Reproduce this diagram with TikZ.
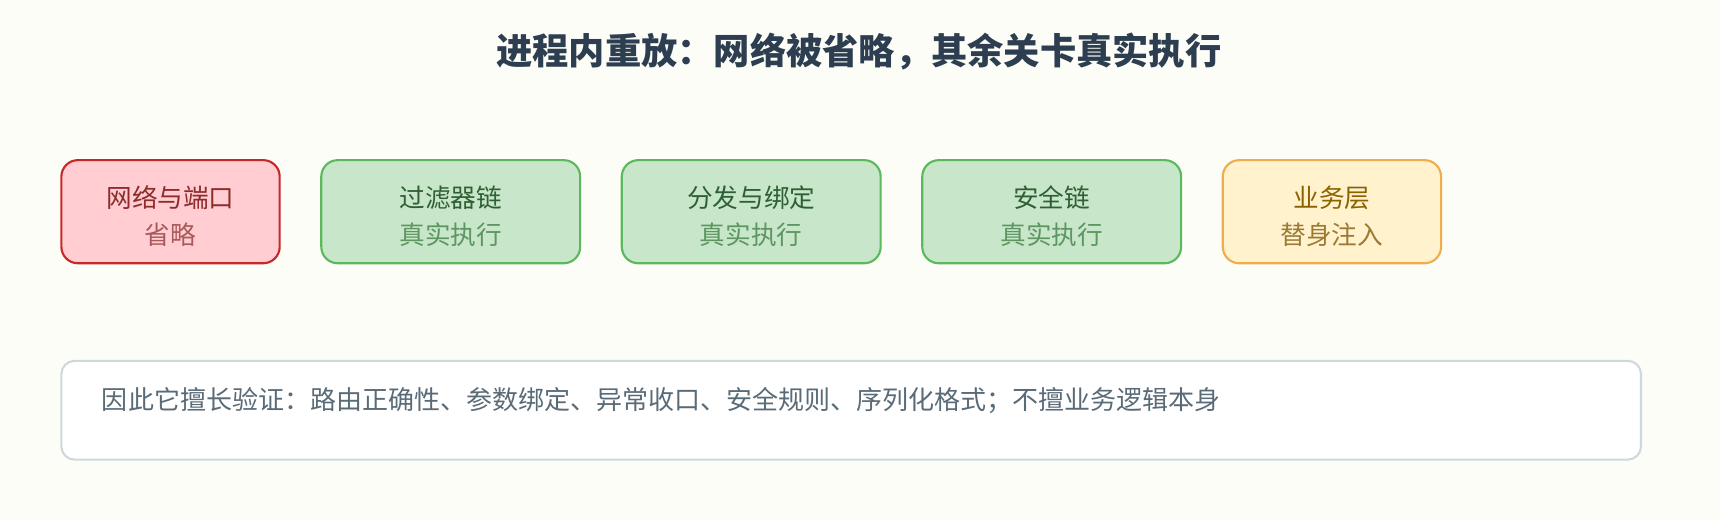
\documentclass[tikz,border=0pt]{standalone}
\usepackage{fontspec}
\setmainfont{Noto Sans CJK SC}
\usetikzlibrary{calc,positioning}
\definecolor{bgcol}{HTML}{FDFDF8}
\definecolor{titlecol}{HTML}{2C3E50}
\definecolor{netfill}{HTML}{FFCDD2}
\definecolor{netdraw}{HTML}{C62828}
\definecolor{nettext}{HTML}{8E2B2B}
\definecolor{netsub}{HTML}{A85A5A}
\definecolor{realfill}{HTML}{C8E6C9}
\definecolor{realdraw}{HTML}{5CB85C}
\definecolor{realtext}{HTML}{2E6034}
\definecolor{realsub}{HTML}{5E9662}
\definecolor{stubfill}{HTML}{FFF2CC}
\definecolor{stubdraw}{HTML}{F0AD4E}
\definecolor{stubtext}{HTML}{8A6200}
\definecolor{stubsub}{HTML}{9C7A34}
\definecolor{notedraw}{HTML}{CFD8DC}
\definecolor{notetext}{HTML}{5A6B78}
\newcommand*{\topstrut}{\rule{0pt}{16.3pt}}

\begin{document}
\begin{tikzpicture} [
  line width = 1.1pt,
  stage/.style={rectangle, rounded corners = .3cm, align = center,
      minimum height = 1.88cm, inner sep = 0pt,
      font = \fontsize{13.3}{19.2}\selectfont},
  net node/.style={stage, fill = netfill, draw = netdraw, text = nettext,
      minimum width = 3.98cm},
  real node/.style={stage, fill = realfill, draw = realdraw, text = realtext,
      minimum width = 4.72cm},
  stub node/.style={stage, fill = stubfill, draw = stubdraw, text = stubtext,
      minimum width = 3.98cm}]

  \fill [bgcol] (0,0) rectangle (31.36,-9.48);
  \useasboundingbox (0,0) rectangle (31.36,-9.48);

  \node [text = titlecol, font = \fontsize{18.8}{22}\selectfont\bfseries] (title)
  at (15.66,-.94) {进程内重放：网络被省略，其余关卡真实执行};

  \node [net node, anchor = west] (net) at (1.1,-3.86)
  {\topstrut 网络与端口\\\textcolor{netsub}{省略}};

  \node [real node, right = .72cm of net] (filter)
  {\topstrut 过滤器链\\\textcolor{realsub}{真实执行}};

  \node [real node, right = .72cm of filter] (dispatch)
  {\topstrut 分发与绑定\\\textcolor{realsub}{真实执行}};

  \node [real node, right = .72cm of dispatch] (security)
  {\topstrut 安全链\\\textcolor{realsub}{真实执行}};

  \node [stub node, right = .72cm of security] (business)
  {\topstrut 业务层\\\textcolor{stubsub}{替身注入}};

  % summary below the chain
  \node [rectangle, rounded corners = .24cm, fill = white, draw = notedraw,
    minimum width = 28.8cm, minimum height = 1.8cm, anchor = north west
  ] (note) at (1.1,-6.56) {};
  \node [text = notetext, anchor = west, inner sep = 0pt,
    font = \fontsize{13.5}{16}\selectfont
  ] (notetxt) at ($(note.west) + (.74,.18)$)
  {因此它擅长验证：路由正确性、参数绑定、异常收口、安全规则、序列化格式；不擅业务逻辑本身};

\end{tikzpicture}
\end{document}
